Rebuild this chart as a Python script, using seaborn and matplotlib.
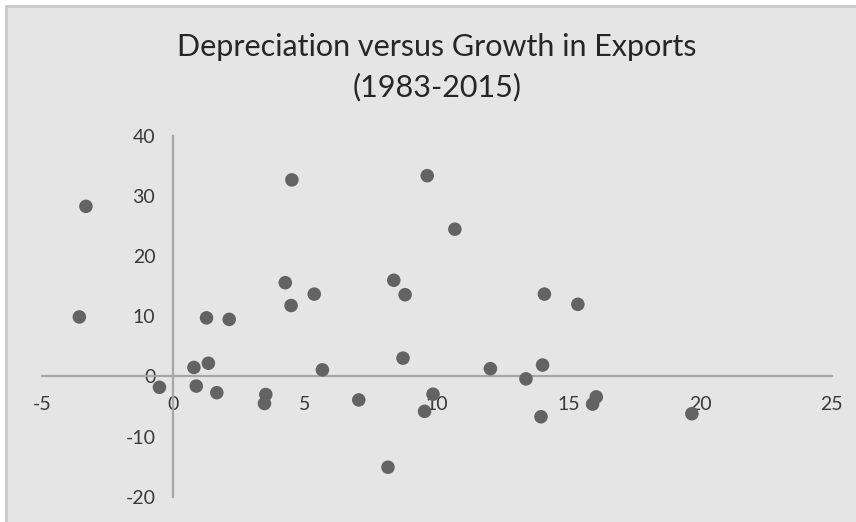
import matplotlib
matplotlib.use("Agg")
import matplotlib.pyplot as plt
import seaborn as sns
import pandas as pd
from matplotlib.patches import Rectangle

sns.set_theme(style="white")
plt.rcParams['font.family'] = ['Lato', 'DejaVu Sans']
plt.rcParams['axes.unicode_minus'] = False

# depreciation (%) vs growth in exports (%)
depreciation = [-3.32, -3.57, 4.50, 4.25, 4.47, 1.26, 2.12, 0.78, 1.33, -0.53,
                0.87, 1.65, 3.51, 3.46, 5.35, 5.66, 7.04, 8.37, 8.80, 8.72,
                8.15, 9.64, 10.69, 9.86, 9.54, 12.04, 13.39, 14.02, 14.09, 13.96,
                15.36, 16.06, 15.92, 19.69]
export_growth = [28.3, 9.9, 32.7, 15.6, 11.8, 9.75, 9.5, 1.5, 2.2, -1.8,
                 -1.6, -2.7, -3.0, -4.5, 13.7, 1.1, -3.9, 16.0, 13.6, 3.05,
                 -15.1, 33.4, 24.5, -2.95, -5.8, 1.3, -0.4, 1.9, 13.7, -6.7,
                 12.0, -3.4, -4.6, -6.2]
x_ticks = [-5, 0, 5, 10, 15, 20, 25]
y_ticks = [-20, -10, 0, 10, 20, 30, 40]

df = pd.DataFrame({'depreciation': depreciation, 'growth': export_growth})

W, H = 856, 522
fig = plt.figure(figsize=(W / 100, H / 100), dpi=100, facecolor='white')
fig.patches.append(Rectangle((6 / W, -0.05), 1.1, 1 - 6 / H + 0.05,
                             transform=fig.transFigure, facecolor='#E5E5E5',
                             edgecolor='#C9C9C9', linewidth=2, zorder=-5))

ax = fig.add_axes([41.7 / W, 1 - 496.7 / H, 790 / W, 360.7 / H])
ax.set_facecolor('none')

sns.scatterplot(data=df, x='depreciation', y='growth', ax=ax, s=95,
                color='#636363', edgecolor='none', zorder=3)

ax.set_xlim(-5, 25)
ax.set_ylim(-20, 40)
ax.set_xticks(x_ticks)
ax.set_yticks(y_ticks)
ax.set_xlabel('')
ax.set_ylabel('')

for side in ['top', 'right']:
    ax.spines[side].set_visible(False)
ax.spines['left'].set_position(('data', 0))
ax.spines['bottom'].set_position(('data', 0))
for side in ['left', 'bottom']:
    ax.spines[side].set_color('#A6A6A6')
    ax.spines[side].set_linewidth(1.6)

ax.tick_params(axis='x', length=0, pad=14, labelsize=14, labelcolor='#3A3A3A')
ax.tick_params(axis='y', length=0, pad=13, labelsize=14, labelcolor='#3A3A3A')

fig.text(437 / W, 1 - 67 / H, 'Depreciation versus Growth in Exports\n(1983-2015)',
         ha='center', va='center', fontsize=22, color='#262626',
         linespacing=1.5)

plt.savefig('out.png', dpi=100, facecolor=fig.get_facecolor())
plt.close()
